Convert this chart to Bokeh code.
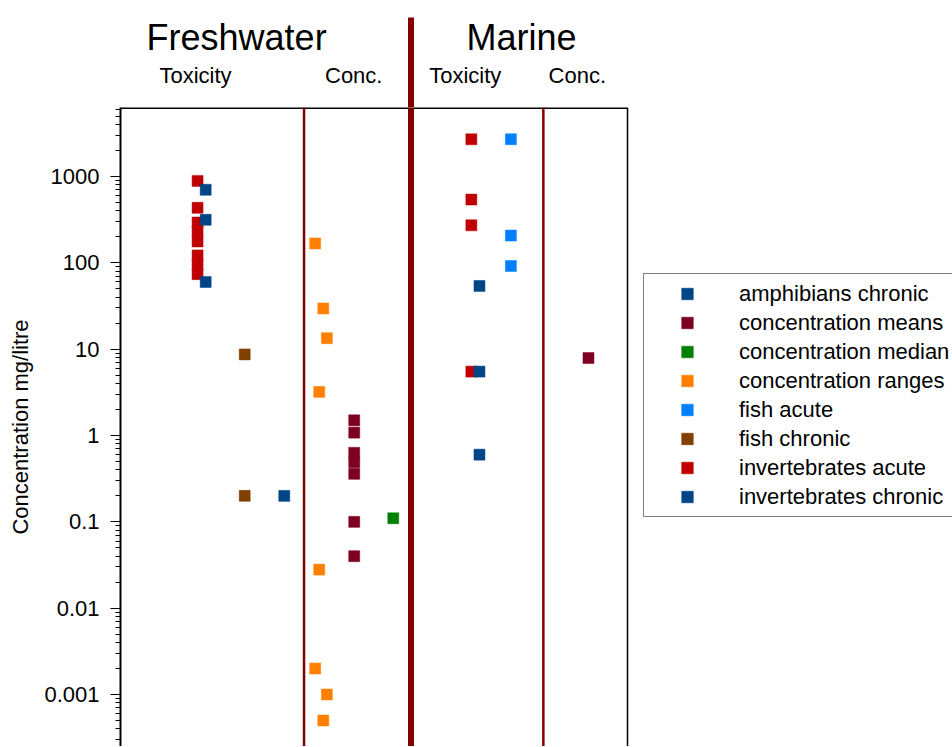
from bokeh.plotting import figure
from bokeh.models import Range1d, FixedTicker, Span
from bokeh.layouts import column
from bokeh.core.properties import value
from bokeh.embed import file_html
from bokeh.resources import INLINE

# ---------------- data ----------------
series_names = ["amphibians chronic", "concentration means", "concentration median",
                "concentration ranges", "fish acute", "fish chronic",
                "invertebrates acute", "invertebrates chronic"]
series_colors = ["#004586", "#7e0021", "#008000", "#ff8000",
                 "#0080ff", "#804000", "#c00000", "#004586"]

# x: strip position inside the box (0-100 = box width), y: concentration mg/litre
amphibians_chronic_x = [32.3]
amphibians_chronic_y = [0.2]

concentration_means_x = [46.1, 46.1, 46.1, 46.1, 46.1, 46.1, 46.1, 92.3]
concentration_means_y = [1.5, 1.08, 0.63, 0.49, 0.36, 0.1, 0.04, 7.9]

concentration_median_x = [53.8]
concentration_median_y = [0.11]

concentration_ranges_x = [38.4, 40.0, 40.7, 39.2, 39.2, 38.4, 40.7, 40.0]
concentration_ranges_y = [168, 29.6, 13.4, 3.2, 0.028, 0.002, 0.001, 0.0005]

fish_acute_x = [77.0, 77.0, 77.0]
fish_acute_y = [2700, 207, 92]

fish_chronic_x = [24.5, 24.5]
fish_chronic_y = [8.7, 0.2]

invertebrates_acute_x = [15.2, 15.2, 15.2, 15.2, 15.2, 15.2, 15.2, 15.2,
                         69.2, 69.2, 69.2, 69.2]
invertebrates_acute_y = [890, 434, 293, 231, 177, 122, 95, 74,
                         2700, 540, 272, 5.5]

invertebrates_chronic_x = [16.8, 16.8, 16.8, 70.8, 70.8, 70.8]
invertebrates_chronic_y = [702, 315, 60, 54, 5.5, 0.6]

series_x = [amphibians_chronic_x, concentration_means_x, concentration_median_x,
            concentration_ranges_x, fish_acute_x, fish_chronic_x,
            invertebrates_acute_x, invertebrates_chronic_x]
series_y = [amphibians_chronic_y, concentration_means_y, concentration_median_y,
            concentration_ranges_y, fish_acute_y, fish_chronic_y,
            invertebrates_acute_y, invertebrates_chronic_y]

tick_values = [0.001, 0.01, 0.1, 1, 10, 100, 1000]
tick_labels = ["0.001", "0.01", "0.1", "1", "10", "100", "1000"]

group_titles = ["Freshwater", "Marine"]
column_titles = ["Toxicity", "Conc.", "Toxicity", "Conc."]

# ---------------- layout ----------------
FONT = value("Liberation Sans")
DARK_RED = "#800000"
X_END = 164.1
Y_START, Y_END = 0.00025, 6300
HDR_H = 107

group_title_x = [22.9, 79.1]
column_title_x = [14.8, 46.0, 68.0, 90.1]
thin_lines_x = [36.2, 83.4]
thick_line_x = 57.3

# header strip
hdr = figure(width=952, height=HDR_H, x_range=Range1d(0, X_END), y_range=Range1d(HDR_H, 0),
             output_backend="svg", toolbar_location=None,
             x_axis_location=None, y_axis_location=None,
             min_border_left=120, min_border_right=0, min_border_top=0, min_border_bottom=0)
hdr.outline_line_color = None
hdr.grid.visible = False
hdr.xgrid.grid_line_color = None
hdr.ygrid.grid_line_color = None
hdr.background_fill_color = "white"
hdr.border_fill_color = "white"
hdr.text(x=group_title_x, y=[37] * len(group_titles), text=group_titles,
         text_align="center", text_baseline="alphabetic",
         text_font=FONT, text_font_size="36px", text_color="black")
hdr.text(x=column_title_x, y=[75] * len(column_titles), text=column_titles,
         text_align="center", text_baseline="alphabetic",
         text_font=FONT, text_font_size="22px", text_color="black")
hdr.segment(x0=[thick_line_x], y0=[17], x1=[thick_line_x], y1=[HDR_H],
            line_width=6, line_color=DARK_RED, line_cap="butt")

# main plot
p = figure(width=952, height=639, x_range=Range1d(0, X_END),
           y_range=Range1d(Y_START, Y_END), y_axis_type="log",
           output_backend="svg", toolbar_location=None, x_axis_location=None,
           min_border_left=120, min_border_right=0, min_border_top=0, min_border_bottom=0)
p.outline_line_color = None
p.grid.visible = False
p.background_fill_color = "white"
p.border_fill_color = "white"

for xl in thin_lines_x:
    p.add_layout(Span(location=xl, dimension="height", line_color=DARK_RED, line_width=2.5))
p.add_layout(Span(location=thick_line_x, dimension="height", line_color=DARK_RED, line_width=6))

# box top and right borders
p.segment(x0=[0], x1=[100], y0=[Y_END], y1=[Y_END], line_width=3, line_color="black")
p.segment(x0=[100], x1=[100], y0=[Y_START], y1=[Y_END], line_width=1.5, line_color="black")

for name, color, xs, ys in zip(series_names, series_colors, series_x, series_y):
    p.scatter(x=xs, y=ys, marker="square", size=11, fill_color=color,
              line_color=color, line_width=0.5, legend_label=name)

minor = [k * 10 ** e for e in range(-4, 4) for k in range(2, 10)]
ax = p.yaxis[0]
ax.ticker = FixedTicker(ticks=tick_values, minor_ticks=minor)
ax.major_label_overrides = {v: l for v, l in zip(tick_values, tick_labels)}
ax.axis_line_width = 2
ax.axis_line_color = "black"
ax.major_tick_line_color = "black"
ax.minor_tick_line_color = "black"
ax.major_tick_out = 10
ax.major_tick_in = 0
ax.minor_tick_out = 5
ax.minor_tick_in = 0
ax.major_label_standoff = 11
ax.major_label_text_font = "Liberation Sans"
ax.major_label_text_font_size = "22px"
ax.major_label_text_color = "black"
ax.axis_label = "Concentration mg/litre"
ax.axis_label_text_font = "Liberation Sans"
ax.axis_label_text_font_size = "22px"
ax.axis_label_text_font_style = "normal"
ax.axis_label_text_color = "black"
ax.axis_label_standoff = 8

lg = p.legend[0]
lg.location = (523, 229)
lg.glyph_width = 76
lg.glyph_height = 29
lg.label_standoff = 14
lg.padding = 5
lg.spacing = 0
lg.margin = 0
lg.label_text_font = "Liberation Sans"
lg.label_text_font_size = "22px"
lg.label_text_color = "black"
lg.border_line_color = "black"
lg.border_line_width = 1
lg.background_fill_color = "white"
lg.background_fill_alpha = 1.0

layout = column(hdr, p, spacing=0)
open("out.html", "w").write(file_html(layout, INLINE))
